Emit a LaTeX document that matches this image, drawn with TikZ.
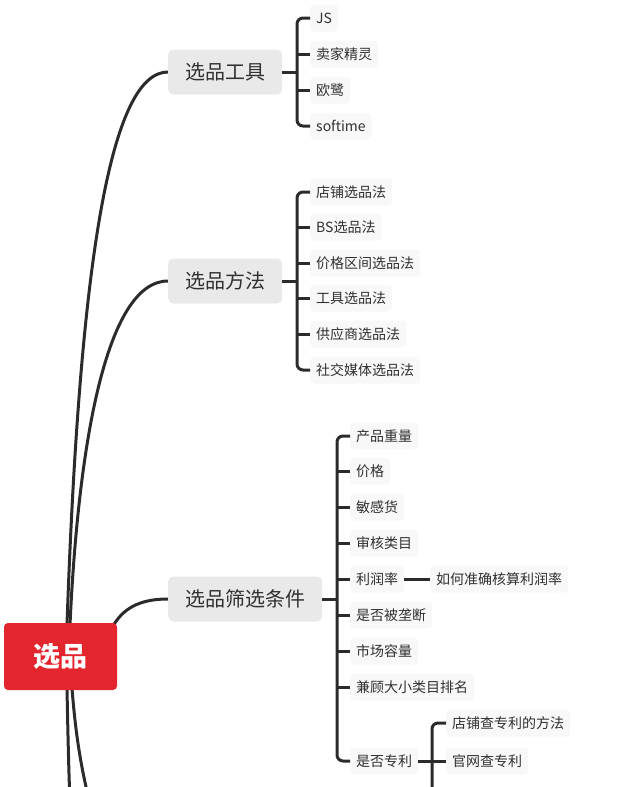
\documentclass[tikz,border=0pt]{standalone}
\usepackage{fontspec}
\setmainfont{Noto Sans CJK SC}
\usetikzlibrary{backgrounds,calc}
\definecolor{redc}{HTML}{E3262E}
\definecolor{boxgray}{HTML}{E9E9E9}
\definecolor{leafbg}{HTML}{F8F8F8}
\definecolor{ink}{HTML}{303030}
\definecolor{linec}{HTML}{2B2B2B}
\tikzset{
  root/.style={fill=redc, rounded corners=4pt, text=white, font=\fontsize{27}{27}\selectfont\bfseries,
    minimum width=113pt, minimum height=67pt, inner sep=0pt},
  mainbox/.style={fill=boxgray, rounded corners=5pt, text=ink, font=\fontsize{20}{20}\selectfont,
    inner xsep=17pt, inner ysep=0pt, minimum height=45pt, anchor=west},
  leaf/.style={fill=leafbg, rounded corners=4pt, text=ink, font=\fontsize{14}{14}\selectfont,
    inner xsep=6pt, inner ysep=0pt, minimum height=27pt, anchor=west},
  br/.style={draw=linec, line width=3pt},
  trunk/.style={br, rounded corners=6pt},
  curve/.style={draw=linec, line width=3pt, line cap=round}
}
\begin{document}
\begin{tikzpicture}[x=1pt,y=-1pt]
\useasboundingbox (0,0) rectangle (636,787);
\clip (0,0) rectangle (636,787);

% root
\node[root] (c) at (60.5,656.5) {选品};

% main boxes
\node[mainbox] (b1) at (168,72) {选品工具};
\node[mainbox] (b2) at (168,281) {选品方法};
\node[mainbox] (b3) at (168,599) {选品筛选条件};

% curves from root
\coordinate (d1) at (70,800);
\coordinate (d2) at (89,800);
\begin{scope}[on background layer]
\draw[curve] ($(c.north)+(6.5,2)$) .. controls (80,250) and (112,72) .. (b1.west);
\draw[curve] ($(c.north)+(9.5,2)$) .. controls (78,450) and (105,281) .. (b2.west);
\draw[curve] ($(c.north east)+(-4,3)$) .. controls (125,605) and (145,599) .. (b3.west);
\draw[curve] ($(c.south)+(6.5,-2)$) .. controls (68,740) and (69,780) .. (d1);
\draw[curve] ($(c.south)+(11.5,-2)$) .. controls (76,740) and (82,770) .. (d2);
\end{scope}

% group 1
\coordinate (j1) at (297,72);
\node[leaf] (l11) at (310,18) {JS};
\node[leaf] (l12) at (310,54) {卖家精灵};
\node[leaf] (l13) at (310,90) {欧鹭};
\node[leaf] (l14) at (310,126) {softime};
\draw[br] (b1.east) -- (j1);
\draw[trunk] (l11.west) -- (l11.west -| j1) -- (l14.west -| j1) -- (l14.west);
\draw[br] (l12.west -| j1) -- (l12.west);
\draw[br] (l13.west -| j1) -- (l13.west);

% group 2
\coordinate (j2) at (297,281);
\node[leaf] (l21) at (310,192) {店铺选品法};
\node[leaf] (l22) at (310,227) {BS选品法};
\node[leaf] (l23) at (310,263) {价格区间选品法};
\node[leaf] (l24) at (310,298) {工具选品法};
\node[leaf] (l25) at (310,334) {供应商选品法};
\node[leaf] (l26) at (310,370) {社交媒体选品法};
\draw[br] (b2.east) -- (j2);
\draw[trunk] (l21.west) -- (l21.west -| j2) -- (l26.west -| j2) -- (l26.west);
\foreach \k in {22,23,24,25} \draw[br] (l\k.west -| j2) -- (l\k.west);

% group 3
\coordinate (j3) at (337,599);
\node[leaf] (l31) at (350,436) {产品重量};
\node[leaf] (l32) at (350,471) {价格};
\node[leaf] (l33) at (350,507) {敏感货};
\node[leaf] (l34) at (350,543) {审核类目};
\node[leaf] (l35) at (350,579) {利润率};
\node[leaf] (l36) at (350,615) {是否被垄断};
\node[leaf] (l37) at (350,651) {市场容量};
\node[leaf] (l38) at (350,687) {兼顾大小类目排名};
\node[leaf] (l39) at (350,761) {是否专利};
\draw[br] (b3.east) -- (j3);
\draw[trunk] (l31.west) -- (l31.west -| j3) -- (l39.west -| j3) -- (l39.west);
\foreach \k in {32,33,34,35,36,37,38} \draw[br] (l\k.west -| j3) -- (l\k.west);

% profit sub
\node[leaf] (m0) at (430,579) {如何准确核算利润率};
\draw[br] (l35.east) -- (m0.west);

% patent sub
\coordinate (j4) at (432,761);
\coordinate (j4e) at (432,800);
\node[leaf] (m1) at (446,723) {店铺查专利的方法};
\node[leaf] (m2) at (446,761) {官网查专利};
\draw[br] (l39.east) -- (j4) -- (m2.west);
\draw[trunk] (m1.west) -- (m1.west -| j4) -- (j4e);
\end{tikzpicture}
\end{document}
